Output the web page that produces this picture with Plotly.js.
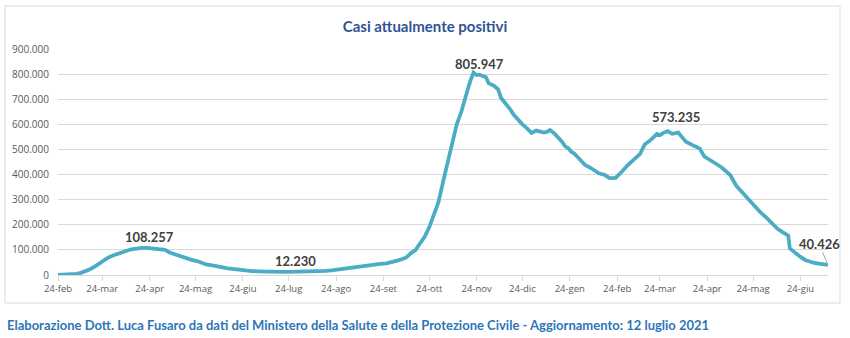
<!DOCTYPE html>
<html>
<head>
<meta charset="utf-8">
<script src="https://cdn.plot.ly/plotly-3.0.1.min.js"></script>
<style>html,body{margin:0;padding:0;background:#fff;}#chart{width:850px;height:338px;}</style>
</head>
<body>
<div id="chart"></div>
<script>
const dates = [
"2020-02-24","2020-02-28","2020-03-03","2020-03-07","2020-03-10","2020-03-13","2020-03-16","2020-03-19","2020-03-22","2020-03-25",
"2020-03-28","2020-03-31","2020-04-03","2020-04-06","2020-04-09","2020-04-12","2020-04-15","2020-04-19","2020-04-22","2020-04-25",
"2020-04-28","2020-05-01","2020-05-04","2020-05-07","2020-05-10","2020-05-13","2020-05-16","2020-05-19","2020-05-22","2020-05-25",
"2020-05-28","2020-05-31","2020-06-03","2020-06-06","2020-06-10","2020-06-14","2020-06-18","2020-06-22","2020-06-26","2020-06-30",
"2020-07-04","2020-07-08","2020-07-12","2020-07-16","2020-07-20","2020-07-24","2020-07-28","2020-08-01","2020-08-05","2020-08-09",
"2020-08-13","2020-08-17","2020-08-21","2020-08-25","2020-08-29","2020-09-02","2020-09-06","2020-09-10","2020-09-14","2020-09-18",
"2020-09-22","2020-09-26","2020-09-30","2020-10-03","2020-10-06","2020-10-09","2020-10-12","2020-10-15","2020-10-18","2020-10-21",
"2020-10-24","2020-10-27","2020-10-30","2020-11-02","2020-11-05","2020-11-08","2020-11-11","2020-11-14","2020-11-16","2020-11-18",
"2020-11-20","2020-11-22","2020-11-24","2020-11-26","2020-11-28","2020-11-30","2020-12-02","2020-12-05","2020-12-08","2020-12-10",
"2020-12-12","2020-12-14","2020-12-16","2020-12-18","2020-12-21","2020-12-24","2020-12-27","2020-12-30","2021-01-02","2021-01-05",
"2021-01-07","2021-01-09","2021-01-11","2021-01-14","2021-01-16","2021-01-19","2021-01-21","2021-01-23","2021-01-25","2021-01-27",
"2021-01-30","2021-02-03","2021-02-07","2021-02-10","2021-02-12","2021-02-16","2021-02-19","2021-02-23","2021-02-25","2021-02-27",
"2021-03-03","2021-03-07","2021-03-11","2021-03-14","2021-03-18","2021-03-22","2021-03-24","2021-03-26","2021-03-29","2021-04-01",
"2021-04-03","2021-04-05","2021-04-08","2021-04-10","2021-04-14","2021-04-17","2021-04-19","2021-04-22","2021-04-25","2021-04-28",
"2021-05-01","2021-05-04","2021-05-07","2021-05-09","2021-05-13","2021-05-16","2021-05-20","2021-05-23","2021-05-26","2021-05-29",
"2021-06-01","2021-06-04","2021-06-06","2021-06-09","2021-06-12","2021-06-15","2021-06-16","2021-06-17","2021-06-19","2021-06-21",
"2021-06-24","2021-06-27","2021-06-30","2021-07-03","2021-07-06","2021-07-09","2021-07-12"
];
const positivi = [
221,650,2263,4636,8514,14955,23073,33190,46638,57521,
70065,77635,85388,93187,96877,102253,105418,108257,107699,105847,
105205,101551,99980,89624,83324,78457,70187,65129,59322,55300,
47986,42075,39297,36976,31710,26757,23101,20637,17638,15563,
14884,13595,13303,12456,12368,12230,12422,12646,12924,13791,
15360,16014,18438,21932,24205,27072,32078,35758,37503,41413,
44098,46114,50630,57429,62576,70110,87193,99266,126237,152000,
190000,245000,290000,370000,450000,530000,600000,650000,700000,735000,
775000,805947,796000,798000,792000,788000,763000,755000,740000,705000,
690000,677000,660000,640000,617000,600000,584000,566000,575000,570000,
567000,570000,577000,563000,551000,530000,512000,505000,491000,483000,
464000,438000,425000,415000,405000,398000,386000,387000,398000,411000,
438000,458000,482000,520000,538000,562000,557000,565000,573235,562000,
563000,567000,545000,531000,518000,510000,504000,472000,462000,451000,
438000,425000,410000,398000,355000,335000,305000,285000,265000,248000,
232000,212000,199000,184000,172000,161000,157000,106000,95000,86000,
72000,60000,52000,48000,45000,42000,40426
];
const tickDates = ["2020-02-24","2020-03-24","2020-04-24","2020-05-24","2020-06-24","2020-07-24","2020-08-24","2020-09-24","2020-10-24","2020-11-24","2020-12-24","2021-01-24","2021-02-24","2021-03-24","2021-04-24","2021-05-24","2021-06-24"];
const tickLabels = ["24-feb","24-mar","24-apr","24-mag","24-giu","24-lug","24-ago","24-set","24-ott","24-nov","24-dic","24-gen","24-feb","24-mar","24-apr","24-mag","24-giu"];
const labelDates = ["2020-04-19","2020-07-24","2020-11-22","2021-03-29"];
const labelValues = [108257,12230,805947,573235];
const labelText = ["108.257","12.230","805.947","573.235"];
const lastDate = "2021-07-12";
const lastValue = 40426;
const lastText = "40.426";
const titleText = "Casi attualmente positivi";
const footerText = "Elaborazione Dott. Luca Fusaro da dati del Ministero della Salute e della Protezione Civile - Aggiornamento: 12 luglio 2021";

const labelFont = {family: "Lato, 'Open Sans', sans-serif", size: 13, color: "#404040"};
const shifts = [[7,11],[7,11],[6,9],[8,14]];
const annotations = labelDates.map((d, i) => ({
  x: d, y: labelValues[i], xref: "x", yref: "y",
  text: "<b>" + labelText[i] + "</b>", showarrow: false,
  xanchor: "center", yanchor: "middle",
  xshift: shifts[i][0], yshift: shifts[i][1], font: labelFont
}));
annotations.push({
  x: lastDate, y: lastValue, xref: "x", yref: "y",
  text: "<b>" + lastText + "</b>", showarrow: true, arrowhead: 0,
  arrowwidth: 1, arrowcolor: "#a6a6a6", ax: -9, ay: -21, standoff: 0,
  borderpad: 0,
  font: labelFont
});
annotations.push({
  x: (5 - 58) / 770, y: (275 - 325) / 226, xref: "paper", yref: "paper",
  xanchor: "left", yanchor: "middle", showarrow: false,
  text: "<b>" + footerText + "</b>",
  font: {family: "Lato, sans-serif", size: 13, color: "#2E75B6"}
});

const data = [{
  x: dates, y: positivi, type: "scatter", mode: "lines",
  line: {color: "#4BACC6", width: 3.75},
  hoverinfo: "skip"
}];

const layout = {
  width: 850, height: 338,
  margin: {l: 58, r: 22, t: 49, b: 63},
  paper_bgcolor: "#ffffff", plot_bgcolor: "#ffffff",
  separators: ",.",
  showlegend: false,
  title: {
    text: "<b>" + titleText + "</b>",
    xref: "container", x: 0.5, xanchor: "center",
    yref: "container", y: 1 - 27 / 338, yanchor: "middle",
    font: {family: "Lato, sans-serif", size: 15, color: "#2F5496"}
  },
  xaxis: {
    type: "date", range: ["2020-02-24", "2021-07-12"],
    tickmode: "array", tickvals: tickDates, ticktext: tickLabels,
    showgrid: false, zeroline: false,
    showline: true, linecolor: "#d9d9d9", linewidth: 1,
    ticks: "outside", ticklen: 5, tickcolor: "#d9d9d9",
    tickfont: {family: "'Open Sans', sans-serif", size: 9.5, color: "#595959"}
  },
  yaxis: {
    range: [0, 900000], dtick: 100000, tick0: 0, tickformat: ",d",
    showgrid: true, gridcolor: "#d9d9d9", gridwidth: 1,
    zeroline: false, showline: false, ticks: "", ticklabelstandoff: 8,
    tickfont: {family: "'Open Sans', sans-serif", size: 10, color: "#595959"}
  },
  annotations: annotations,
  shapes: [{
    type: "rect", xref: "paper", yref: "paper",
    x0: (5 - 58) / 770, x1: (840 - 58) / 770,
    y0: (275 - 303) / 226, y1: (275 - 6) / 226,
    line: {color: "#d9d9d9", width: 1}, fillcolor: "rgba(0,0,0,0)", layer: "below"
  }]
};

Plotly.newPlot("chart", data, layout, {displayModeBar: false, staticPlot: true});
</script>
</body>
</html>
